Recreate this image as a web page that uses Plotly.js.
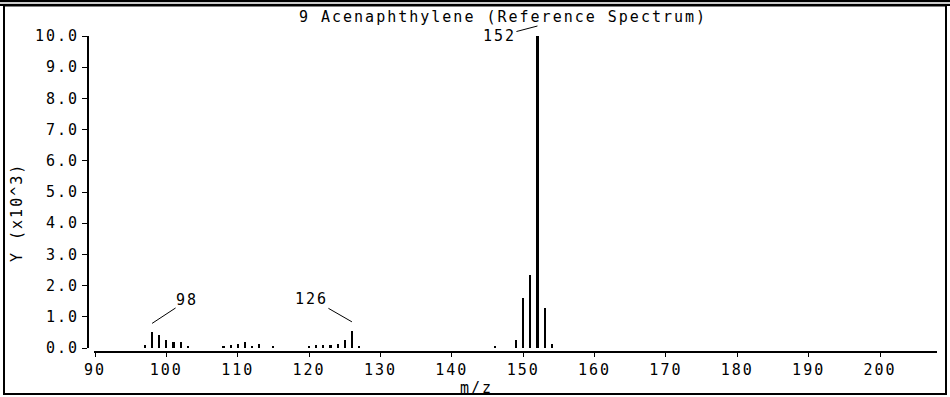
<!DOCTYPE html>
<html>
<head>
<meta charset="utf-8">
<script src="https://cdn.plot.ly/plotly-3.0.1.min.js"></script>
<style>
html,body{margin:0;padding:0;background:#fff;}
#chart{width:950px;height:397px;}
svg text{letter-spacing:2px;}
</style>
</head>
<body>
<div id="chart"></div>
<script>
// ---- data (intensity in units of 10^3) ----
const mz = [97, 98, 99, 100, 101, 102, 103,
            108, 109, 110, 111, 112, 113, 115,
            120, 121, 122, 123, 124, 125, 126, 127,
            146, 149, 150, 151, 152, 153, 154];
const intensity = [0.10, 0.50, 0.42, 0.25, 0.18, 0.18, 0.05,
                   0.06, 0.10, 0.12, 0.18, 0.06, 0.12, 0.06,
                   0.05, 0.10, 0.10, 0.10, 0.12, 0.25, 0.55, 0.07,
                   0.05, 0.25, 1.60, 2.34, 10.0, 1.28, 0.13];
const yTicks = [0, 1, 2, 3, 4, 5, 6, 7, 8, 9, 10];
const xTicks = [90, 100, 110, 120, 130, 140, 150, 160, 170, 180, 190, 200];
const peakLabels = [98, 126, 152];
const titleText = "9 Acenaphthylene (Reference Spectrum)";
const xTitle = "m/z";
const yTitle = "Y (x10^3)";

// ---- layout geometry ----
const W = 950, H = 397;
const M = {l: 88, r: 13, t: 36, b: 45};
const PW = W - M.l - M.r, PH = H - M.t - M.b;
const xp = px => (px - M.l) / PW;
const yp = py => (H - M.b - py) / PH;
const FONT = "DejaVu Sans Mono, monospace";

const trace = {
  type: "bar",
  x: mz,
  y: intensity,
  width: 0.3,
  marker: {color: "#000", line: {width: 0}},
  hoverinfo: "x+y"
};

// label offsets (pixels) and the pixel height above the peak top where the leader ends
const labelOffsets = {98: [35, -23, 9], 126: [-40, -23, 9], 152: [-38, 10, 10]};
const annotations = peakLabels.map(m => {
  const v = intensity[mz.indexOf(m)];
  const o = labelOffsets[m];
  // peak-top pixel position via axis scale (range 0..10 over 312 px)
  const topPx = 348 - v * 31.2 - o[2];
  return {
    x: m, y: yp(topPx), xref: "x", yref: "paper",
    text: String(m), showarrow: true, arrowhead: 0, arrowwidth: 1,
    arrowcolor: "#000", ax: o[0], ay: o[1],
    font: {family: FONT, size: 15, color: "#000"}, borderpad: 0, standoff: 0
  };
});
annotations.push({
  xref: "paper", yref: "paper", x: xp(17), y: yp(213),
  xanchor: "center", yanchor: "middle", textangle: -90, showarrow: false,
  text: yTitle, font: {family: FONT, size: 15, color: "#000"}
});
annotations.push({
  xref: "paper", yref: "paper", x: xp(476), y: yp(388),
  xanchor: "center", yanchor: "middle", showarrow: false,
  text: xTitle, font: {family: FONT, size: 15, color: "#000"}
});

const shapes = [
  {type: "rect", xref: "paper", yref: "paper", x0: xp(4), x1: xp(946), y0: yp(5.5), y1: yp(394),
   line: {color: "#000", width: 2}, fillcolor: "rgba(0,0,0,0)"},
  {type: "line", xref: "paper", yref: "paper", x0: xp(0), x1: xp(950), y0: yp(1), y1: yp(1),
   line: {color: "#000", width: 2}},
  {type: "line", xref: "paper", yref: "paper", x0: xp(0), x1: xp(950), y0: yp(3), y1: yp(3),
   line: {color: "#999", width: 1}},
  {type: "line", xref: "paper", yref: "paper", x0: xp(0), x1: xp(950), y0: yp(5), y1: yp(5),
   line: {color: "#000", width: 2}}
];

const layout = {
  width: W, height: H,
  margin: M,
  paper_bgcolor: "#fff", plot_bgcolor: "#fff",
  showlegend: false,
  bargap: 0,
  title: {
    text: titleText, xref: "container", yref: "container",
    x: 503 / W, y: 1 - 17 / H, xanchor: "center", yanchor: "middle",
    font: {family: FONT, size: 15, color: "#000"}
  },
  xaxis: {
    domain: [xp(94), 1],
    range: [90 - 1 / 7.145, 90 + 843 / 7.145],
    anchor: "free", position: 0,
    tickvals: xTicks, ticktext: xTicks.map(String),
    ticks: "outside", ticklen: 4, tickwidth: 1, tickcolor: "#000",
    showline: true, linecolor: "#000", linewidth: 2,
    showgrid: false, zeroline: false,
    tickfont: {family: FONT, size: 15, color: "#000"}
  },
  yaxis: {
    domain: [yp(348), 1],
    range: [0, 10],
    anchor: "free", position: 0,
    tickvals: yTicks, ticktext: yTicks.map(v => v.toFixed(1)),
    ticks: "outside", ticklen: 5, tickwidth: 1, tickcolor: "#000",
    showline: true, linecolor: "#000", linewidth: 2,
    showgrid: false, zeroline: false,
    tickfont: {family: FONT, size: 15, color: "#000"}
  },
  annotations: annotations,
  shapes: shapes
};

Plotly.newPlot("chart", [trace], layout, {displayModeBar: false, staticPlot: true});
</script>
</body>
</html>
